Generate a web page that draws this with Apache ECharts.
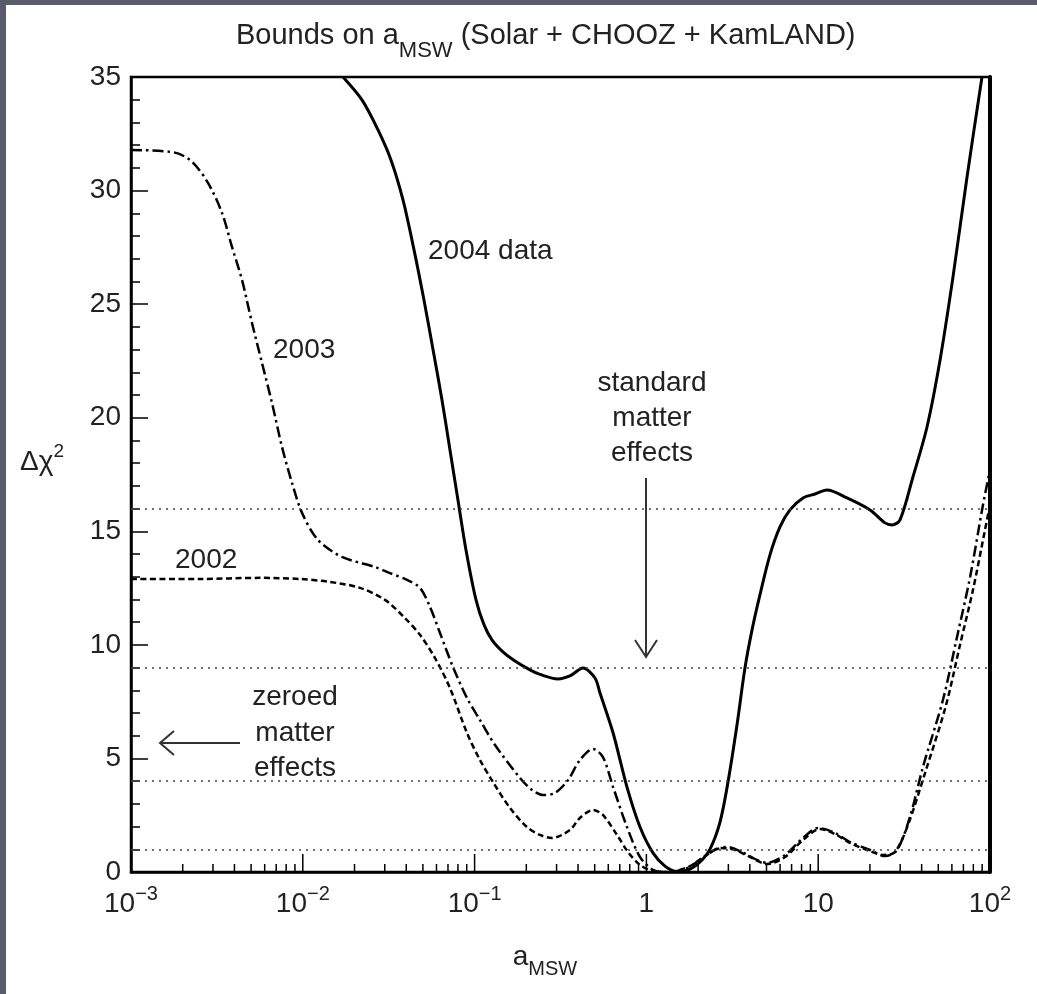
<!DOCTYPE html>
<html>
<head>
<meta charset="utf-8">
<script src="https://cdn.jsdelivr.net/npm/echarts@6/dist/echarts.min.js"></script>
<style>
  html, body { margin: 0; padding: 0; width: 1037px; height: 994px; background: #585b6b; overflow: hidden; }
  #paper { position: absolute; left: 6px; top: 5px; width: 1031px; height: 989px; background: #fff; }
  #main { position: absolute; left: 0; top: 0; width: 1037px; height: 994px; }
</style>
</head>
<body>
<div id="paper"></div>
<div id="main"></div>
<script>
// values (a_MSW on a log axis, delta chi^2 linear)
const x2004 = [0.01714, 0.0221, 0.0274, 0.0326, 0.0383, 0.0444, 0.0507, 0.0573, 0.0646, 0.0719,
  0.0800, 0.0891, 0.1019, 0.1135, 0.1262, 0.1462, 0.1718, 0.2101, 0.2402, 0.3055,
  0.3589, 0.4276, 0.502, 0.537, 0.640, 0.771, 0.918, 1.092, 1.282, 1.507,
  1.794, 2.051, 2.345, 2.682, 2.985, 3.367, 3.747, 4.12, 4.58, 5.24,
  5.99, 6.85, 8.16, 9.58, 11.25, 14.71, 20.04, 24.49, 26.92, 29.95,
  35.6, 42.99, 51.2, 60.9, 73.5, 89.8];
const y2004 = [35.0, 33.99, 32.67, 31.35, 29.59, 27.39, 25.19, 22.99, 20.78, 18.58,
  16.38, 14.18, 11.98, 10.88, 10.22, 9.69, 9.29, 8.90, 8.70, 8.50,
  8.63, 8.98, 8.54, 7.88, 6.12, 3.74, 1.98, 0.84, 0.26, 0.02,
  0.13, 0.44, 1.01, 2.20, 3.96, 6.47, 8.98, 10.66, 12.2, 13.96,
  15.19, 15.94, 16.47, 16.64, 16.82, 16.47, 15.94, 15.37, 15.28, 15.50,
  17.39, 19.59, 22.54, 26.2, 30.6, 35.0];

const x2003 = [0.001, 0.001803, 0.002265, 0.002806, 0.003385, 0.003871, 0.004426, 0.005062, 0.005788, 0.006618,
  0.007568, 0.008654, 0.009896, 0.01225, 0.0169, 0.0263, 0.0309, 0.0404, 0.0481, 0.0550,
  0.0629, 0.0748, 0.0903, 0.1075, 0.1315, 0.1837, 0.216, 0.250, 0.294, 0.350,
  0.410, 0.4887, 0.5585, 0.640, 0.771, 0.918, 1.092, 1.30, 1.679, 2.051,
  2.507, 2.943, 3.598, 4.40, 5.035, 6.41, 8.16, 9.98, 12.53, 15.31,
  20.04, 24.49, 28.77, 34.2, 40.7, 53.2, 64.3, 76.6, 91.0, 100];
const y2003 = [31.79, 31.67, 31.27, 30.34, 29.02, 27.52, 26.07, 24.17, 22.41, 20.65,
  18.71, 17.13, 15.81, 14.62, 13.87, 13.43, 13.21, 12.86, 12.51, 11.67,
  10.52, 9.03, 7.66, 6.69, 5.59, 4.14, 3.61, 3.39, 3.48, 4.05,
  4.93, 5.42, 5.06, 3.74, 1.98, 0.66, 0.09, 0.0, 0.13, 0.53,
  0.97, 1.10, 0.88, 0.53, 0.40, 0.75, 1.50, 1.94, 1.72, 1.32,
  0.97, 0.70, 0.97, 2.42, 4.62, 7.57, 10.35, 12.99, 16.16, 17.70];

const x2002 = [0.001, 0.002523, 0.005636, 0.00964, 0.01439, 0.02153, 0.03008, 0.03932, 0.04808, 0.05884,
  0.0719, 0.0903, 0.1075, 0.1279, 0.1607, 0.2017, 0.2402, 0.2825, 0.3589, 0.410,
  0.4887, 0.5585, 0.6745, 0.7816, 0.918, 1.079, 1.20, 1.466, 1.794, 2.193,
  2.682, 3.279, 4.009, 5.035, 6.41, 8.16, 10.24, 12.53, 15.31, 20.04,
  23.84, 27.99, 33.3, 42.4, 55.5, 66.9, 79.6, 93.5, 100];
const y2002 = [12.90, 12.90, 12.95, 12.90, 12.77, 12.51, 11.98, 11.18, 10.44, 9.42,
  8.10, 6.12, 4.93, 3.96, 2.82, 1.98, 1.63, 1.50, 1.85, 2.38,
  2.73, 2.51, 1.63, 0.88, 0.31, 0.04, 0.0, 0.04, 0.26, 0.70,
  1.06, 0.97, 0.66, 0.35, 0.66, 1.41, 1.89, 1.67, 1.28, 0.92,
  0.75, 0.88, 2.07, 4.49, 7.35, 10.0, 12.42, 15.06, 16.16];

// dotted reference levels (1, 2, 3, 4 sigma)
const refLevels = [1, 4, 9, 16];

// x tick labels, one per decade
const xTickExps = [-3, -2, -1, 0, 1, 2];
const xTickLabels = ['{b|10}{s|\u22123}', '{b|10}{s|\u22122}', '{b|10}{s|\u22121}', '{b|1}', '{b|10}', '{b|10}{s|2}'];

const FONT = '"Liberation Sans", Arial, Helvetica, sans-serif';
const INK = '#222';

function pairs(xs, ys) {
  return xs.map((x, i) => [x, ys[i]]);
}

// log axis ticks drawn by hand: long ones on decades, short ones at 2..9
const xTicks = [];
for (let e = -3; e <= 1; e++) {
  const d = Math.pow(10, e);
  if (e > -3) xTicks.push([d, 18]);
  for (let m = 2; m <= 9; m++) xTicks.push([m * d, 8]);
}

const chart = echarts.init(document.getElementById('main'));

function txt(str, x, y, align) {
  return {
    type: 'text', x: x, y: y, silent: true,
    style: { text: str, fontSize: 28, fontFamily: FONT, fill: INK, align: align || 'left', verticalAlign: 'middle' }
  };
}

const option = {
  animation: false,
  backgroundColor: 'transparent',
  grid: {
    left: 131, right: 47, top: 77, bottom: 122,
    show: true, borderColor: '#000', borderWidth: 2.5, backgroundColor: 'transparent'
  },
  xAxis: {
    type: 'log', logBase: 10, min: 0.001, max: 100,
    axisLine: { show: true, lineStyle: { color: '#000', width: 2.5 } },
    axisTick: { show: false },
    splitLine: { show: false },
    axisLabel: {
      margin: 12,
      formatter: function (v) {
        const e = Math.round(Math.log10(v));
        return xTickLabels[xTickExps.indexOf(e)] || '';
      },
      rich: {
        b: { fontSize: 28, fontFamily: FONT, color: INK, lineHeight: 34, verticalAlign: 'bottom' },
        s: { fontSize: 20, fontFamily: FONT, color: INK, lineHeight: 16, verticalAlign: 'top' }
      }
    }
  },
  yAxis: [{
    type: 'value', min: 0, max: 35, interval: 5,
    axisLine: { show: true, lineStyle: { color: '#000', width: 2.5 } },
    axisTick: { show: true, inside: true, length: 17, lineStyle: { color: '#000', width: 1.5 } },
    minorTick: { show: true, splitNumber: 5, length: 9, lineStyle: { color: '#000', width: 1.5 } },
    splitLine: { show: false },
    axisLabel: { fontSize: 28, fontFamily: FONT, color: INK, margin: 10 }
  }, {
    type: 'value', min: 0, max: 35, position: 'right',
    axisLine: { show: true, onZero: false, lineStyle: { color: '#000', width: 4 } },
    axisTick: { show: false }, axisLabel: { show: false }, splitLine: { show: false }
  }],
  series: [
    {
      name: '2004 data', type: 'line', data: pairs(x2004, y2004),
      symbol: 'none', smooth: 0.3, z: 4,
      lineStyle: { color: '#000', width: 3 },
      markLine: {
        silent: true, symbol: ['none', 'none'], label: { show: false },
        lineStyle: { type: [2, 5], color: '#444', width: 1.5 },
        data: refLevels.map(v => ({ yAxis: v }))
      }
    },
    {
      name: '2003', type: 'line', data: pairs(x2003, y2003),
      symbol: 'none', smooth: 0.3, z: 3,
      lineStyle: { color: '#000', width: 2.5, type: [11, 4, 2.5, 4] }
    },
    {
      name: '2002', type: 'line', data: pairs(x2002, y2002),
      symbol: 'none', smooth: 0.3, z: 3,
      lineStyle: { color: '#000', width: 2.5, type: [6, 3.5] }
    },
    {
      name: 'xticks', type: 'custom', silent: true, clip: false, z: 5,
      data: xTicks,
      renderItem: function (params, api) {
        const p = api.coord([api.value(0), 0]);
        return {
          type: 'line',
          shape: { x1: p[0], y1: p[1], x2: p[0], y2: p[1] - api.value(1) },
          style: { stroke: '#000', lineWidth: 1.5 }
        };
      }
    }
  ],
  graphic: [
    {
      type: 'text', x: 236, y: 21, silent: true,
      style: {
        text: '{a|Bounds on a}{s|MSW}{a| (Solar + CHOOZ + KamLAND)}',
        verticalAlign: 'top', align: 'left',
        rich: {
          a: { fontSize: 29, fontFamily: FONT, fill: INK, lineHeight: 30, verticalAlign: 'top' },
          s: { fontSize: 22, fontFamily: FONT, fill: INK, lineHeight: 41, verticalAlign: 'bottom' }
        }
      }
    },
    {
      type: 'text', x: 545, y: 943, silent: true,
      style: {
        text: '{a|a}{s|MSW}',
        verticalAlign: 'top', align: 'center',
        rich: {
          a: { fontSize: 28, fontFamily: FONT, fill: INK, lineHeight: 30, verticalAlign: 'top' },
          s: { fontSize: 20, fontFamily: FONT, fill: INK, lineHeight: 36, verticalAlign: 'bottom' }
        }
      }
    },
    {
      type: 'text', x: 20, y: 442, silent: true,
      style: {
        text: '{a|\u0394\u03c7}{s|2}',
        verticalAlign: 'top', align: 'left',
        rich: {
          a: { fontSize: 28, fontFamily: FONT, fill: INK, lineHeight: 34, verticalAlign: 'bottom' },
          s: { fontSize: 19, fontFamily: FONT, fill: INK, lineHeight: 18, verticalAlign: 'top' }
        }
      }
    },
    txt('2004 data', 428, 251),
    txt('2003', 273, 350),
    txt('2002', 175, 560),
    txt('standard', 652, 383, 'center'),
    txt('matter', 652, 418, 'center'),
    txt('effects', 652, 453, 'center'),
    txt('zeroed', 295, 697, 'center'),
    txt('matter', 295, 733, 'center'),
    txt('effects', 295, 768, 'center'),
    { type: 'line', silent: true, shape: { x1: 646, y1: 478, x2: 646, y2: 656 }, style: { stroke: '#333', lineWidth: 2 } },
    { type: 'polyline', silent: true, shape: { points: [[635, 640], [646, 657], [657, 640]] }, style: { stroke: '#333', lineWidth: 2, fill: null } },
    { type: 'line', silent: true, shape: { x1: 240, y1: 743, x2: 161, y2: 743 }, style: { stroke: '#333', lineWidth: 2 } },
    { type: 'polyline', silent: true, shape: { points: [[174, 731], [160, 743], [174, 755]] }, style: { stroke: '#333', lineWidth: 2, fill: null } }
  ]
};

chart.setOption(option);
</script>
</body>
</html>
